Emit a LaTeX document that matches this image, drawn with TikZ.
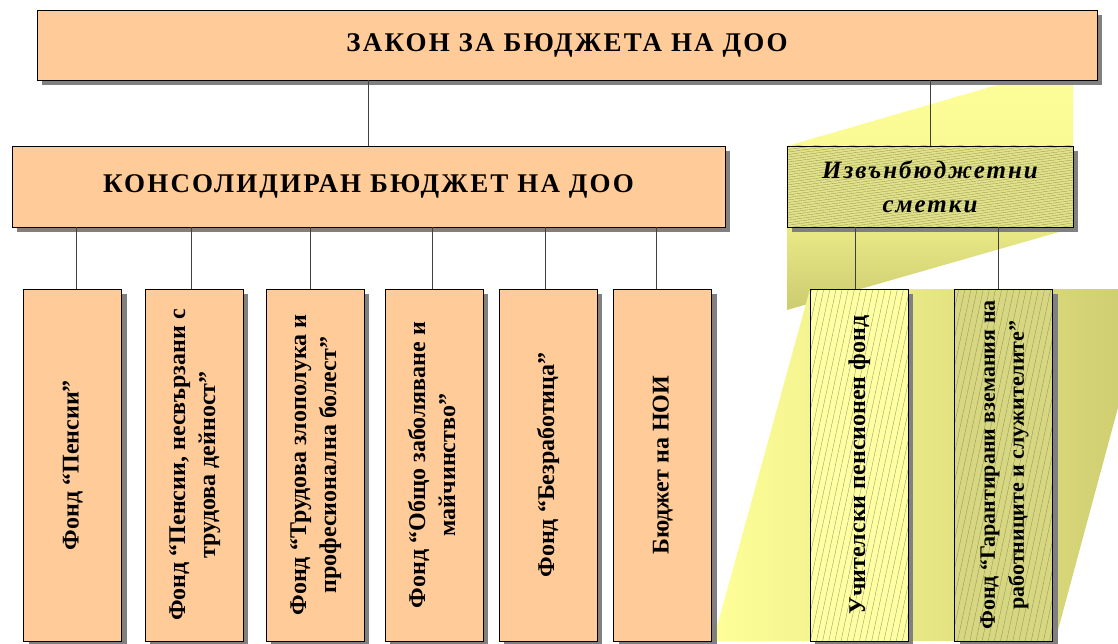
\documentclass[tikz,border=0pt]{standalone}
\usepackage{fontspec}
\setmainfont{Liberation Serif}
\newfontfamily\spacedfont[LetterSpace=8]{Liberation Serif}
\usetikzlibrary{shadows,patterns.meta}

\definecolor{peach}{HTML}{FFCC99}
\definecolor{beamyellow}{HTML}{FFFF99}
\definecolor{beamolive}{HTML}{CCCC70}
\definecolor{extfill}{HTML}{E2E288}
\definecolor{hatchgray}{HTML}{8C8C5A}

\newcommand{\vlabel}[1]{\rotatebox{90}{\begin{tabular}{@{}c@{}}#1\end{tabular}}}

\tikzset{
  boxshadow/.style={drop shadow={shadow xshift=5pt,shadow yshift=-5pt,fill=black!50,opacity=1}},
  box/.style={draw=black,line width=0.9pt,boxshadow,inner sep=0pt},
  law/.style={box,fill=peach,minimum width=1060,minimum height=70,
    font=\spacedfont\bfseries\fontsize{27}{30}\selectfont},
  consbox/.style={box,fill=peach,minimum width=713,minimum height=81,
    font=\spacedfont\bfseries\fontsize{27}{30}\selectfont},
  extbox/.style={box,preaction={fill=extfill},
    pattern={Lines[angle=8,distance=2.5pt,line width=0.3pt]},pattern color=hatchgray,
    minimum width=286,minimum height=81,align=center,
    font=\spacedfont\bfseries\itshape\fontsize{25}{34}\selectfont},
  fund/.style={box,fill=peach,minimum width=98,minimum height=352,
    font=\bfseries\fontsize{24}{30}\selectfont},
  xfund/.style={fund,preaction={fill=#1},
    pattern={Lines[angle=78,distance=6pt,line width=0.3pt]},pattern color=hatchgray},
  link/.style={draw=black!75,line width=0.8pt}
}

\begin{document}
\begin{tikzpicture}[x=1pt,y=-1pt]
  \useasboundingbox (0,0) rectangle (1118,644);

  % светлинните снопове
  \begin{scope}
    \clip (0,0) rectangle (1118,644);
    \shade[top color=beamyellow,bottom color=beamolive,middle color=beamyellow!85!beamolive]
      (787,146) -- (1073,63) -- (1073,228) -- (787,310) -- cycle;
    \shade[left color=beamyellow,right color=beamolive]
      (810,289) -- (1150,289) -- (1055,641) -- (713,641) -- cycle;
  \end{scope}

  % горно ниво
  \node[law] (law) at (567,45) {ЗАКОН ЗА БЮДЖЕТА НА ДОО};
  \node[consbox] (cons) at (368.5,186.5) {КОНСОЛИДИРАН БЮДЖЕТ НА ДОО};
  \node[extbox] (ext) at (930,186.5) {Извънбюджетни\\сметки};

  % фондове
  \node[fund] (f1) at (72.5,465) {\vlabel{Фонд “Пенсии”}};
  \node[fund] (f2) at (194,465) {\vlabel{Фонд “Пенсии, несвързани с\\трудова дейност”}};
  \node[fund] (f3) at (315,465) {\vlabel{Фонд “Трудова злополука и\\професионална болест”}};
  \node[fund] (f4) at (434,465) {\vlabel{Фонд “Общо заболяване и\\майчинство”}};
  \node[fund] (f5) at (548,465) {\vlabel{Фонд “Безработица”}};
  \node[fund] (f6) at (662.5,465) {\vlabel{Бюджет на НОИ}};
  \node[xfund=beamyellow!90!white] (u1) at (859,465) {\vlabel{Учителски пенсионен фонд}};
  \node[xfund=extfill!95!black,font=\bfseries\fontsize{22}{29}\selectfont] (u2) at (1003.5,465)
    {\vlabel{Фонд “Гарантирани вземания на\\работниците и служителите”}};

  % връзки
  \draw[link] (law.south -| cons.north) -- (cons.north);
  \draw[link] (law.south -| ext.north) -- (ext.north);
  \foreach \f/\x in {f1/76,f2/191,f3/310,f4/432,f5/545,f6/656} % към консолидирания бюджет
    \draw[link] (\f.north -| \x,0) -- (cons.south -| \x,0);
  \foreach \f/\x in {u1/855,u2/998}
    \draw[link] (\f.north -| \x,0) -- (ext.south -| \x,0);
\end{tikzpicture}
\end{document}
